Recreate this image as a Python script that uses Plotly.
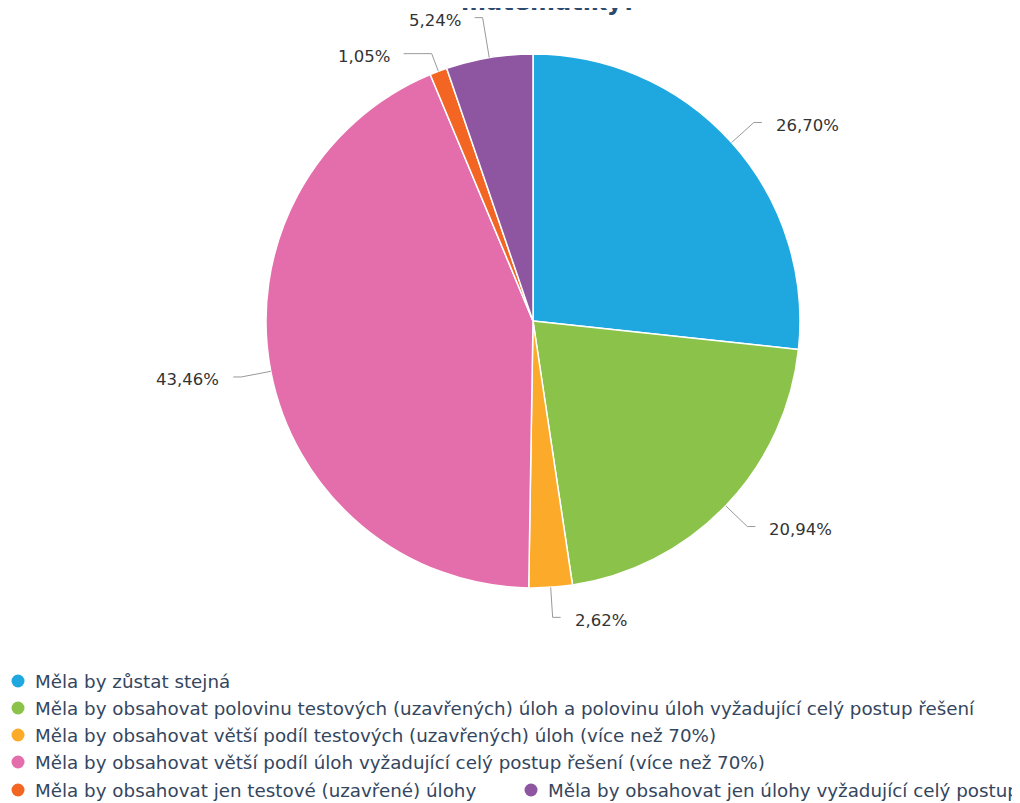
import math
import plotly.graph_objects as go

# ---- data ----
categories = [
    "Měla by zůstat stejná",
    "Měla by obsahovat polovinu testových (uzavřených) úloh a polovinu úloh vyžadující celý postup řešení",
    "Měla by obsahovat větší podíl testových (uzavřených) úloh (více než 70%)",
    "Měla by obsahovat větší podíl úloh vyžadující celý postup řešení (více než 70%)",
    "Měla by obsahovat jen testové (uzavřené) úlohy",
    "Měla by obsahovat jen úlohy vyžadující celý postup řešení",
]
values = [26.70, 20.94, 2.62, 43.46, 1.05, 5.24]
colors = ["#1fa8e0", "#8bc34a", "#fbaa2a", "#e46eab", "#f26522", "#8e55a1"]
title_text = "matematiky?"

# ---- layout geometry (screen pixels) ----
W, H = 1020, 803
PAGE_OFF = 8  # default page margin of the html body
CX, CY, R = 533, 321, 267
DIST = 30
LABEL_FONT = dict(family="DejaVu Sans", size=16.5, color="#333333")
LEGEND_FONT = dict(family="DejaVu Sans", size=18.3, color="#34465e")


def px(x):
    return (x - PAGE_OFF) / W


def py(y):
    return 1 - (y - PAGE_OFF) / H


fig = go.Figure()
fig.add_trace(go.Pie(
    labels=categories, values=values, sort=False, direction="clockwise",
    rotation=0, textinfo="none", hoverinfo="label+percent",
    marker=dict(colors=colors, line=dict(color="white", width=1.5)),
    domain=dict(x=[px(CX - R), px(CX + R)], y=[py(CY + R), py(CY - R)]),
    showlegend=False,
))

# ---- data labels with connectors (computed from values) ----
total = sum(values)
labels = []
cum = 0
for v in values:
    mid = (cum + v / 2) / total * 2 * math.pi
    cum += v
    s, c = math.sin(mid), math.cos(mid)
    labels.append(dict(v=v, s=s, c=c,
                       ex=CX + R * s, ey=CY - R * c,
                       y=CY - (R + DIST) * c,
                       side=1 if s >= 0 else -1))

# simple collision avoidance per side
MIN_GAP = 36
for side in (1, -1):
    grp = sorted([l for l in labels if l["side"] == side], key=lambda l: l["y"])
    for _ in range(50):
        moved = False
        for a, b in zip(grp, grp[1:]):
            if b["y"] - a["y"] < MIN_GAP:
                d = (MIN_GAP - (b["y"] - a["y"])) / 2
                a["y"] -= d
                b["y"] += d
                moved = True
        if not moved:
            break

shapes = []
annotations = []
for l in labels:
    if abs(l["c"]) > 1e-6:
        t = (l["ey"] - l["y"]) / l["c"]
    else:
        t = DIST
    t = max(8, min(45, t))
    kx = l["ex"] + t * l["s"]
    ky = l["y"]
    side = l["side"]
    dy = ky - CY
    rr2 = (R + DIST) ** 2 - dy ** 2
    hx = kx + 8 * side
    if rr2 > 0:
        circ = CX + side * math.sqrt(rr2)
        hx = max(hx, circ) if side > 0 else min(hx, circ)
    line = dict(color="#999999", width=1)
    shapes.append(dict(type="line", xref="paper", yref="paper",
                       x0=px(l["ex"]), y0=py(l["ey"]), x1=px(kx), y1=py(ky), line=line))
    shapes.append(dict(type="line", xref="paper", yref="paper",
                       x0=px(kx), y0=py(ky), x1=px(hx), y1=py(ky), line=line))
    txt = ("%.2f" % l["v"]).replace(".", ",") + "%"
    annotations.append(dict(
        text=txt, xref="paper", yref="paper", showarrow=False,
        x=px(hx + 12 * side), y=py(ky + 3),
        xanchor="left" if side > 0 else "right", yanchor="middle",
        font=LABEL_FONT))

# ---- legend (manual, Highcharts-like wrapping) ----
legend_pos = [(18, 681), (18, 708), (18, 735), (18, 762), (18, 790), (531, 790)]
for cat, col, (mx, my) in zip(categories, colors, legend_pos):
    rr = 6.5
    shapes.append(dict(type="circle", xref="paper", yref="paper",
                       x0=px(mx - rr), x1=px(mx + rr), y0=py(my + rr), y1=py(my - rr),
                       fillcolor=col, line=dict(width=0)))
    annotations.append(dict(
        text=cat, xref="paper", yref="paper", showarrow=False,
        x=px(mx + 15), y=py(my), xanchor="left", yanchor="middle",
        font=LEGEND_FONT))

# ---- title (cut off at top) ----
annotations.append(dict(
    text="<b>" + title_text + "</b>", xref="paper", yref="paper", showarrow=False,
    x=px(548), y=py(17.5), xanchor="center", yanchor="bottom",
    font=dict(family="DejaVu Sans", size=24, color="#2d4a6e")))

fig.update_layout(
    width=W, height=H, margin=dict(l=0, r=0, t=0, b=0),
    paper_bgcolor="white", plot_bgcolor="white",
    shapes=shapes, annotations=annotations, showlegend=False,
)
fig.write_html("out.html")
